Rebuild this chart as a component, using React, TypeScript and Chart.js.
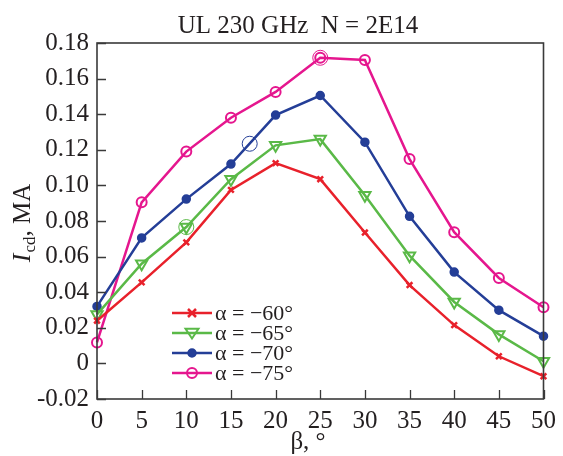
import React, { useEffect, useRef } from "react";
import { Chart, registerables } from "chart.js";

Chart.register(...registerables);

const beta = [0, 5, 10, 15, 20, 25, 30, 35, 40, 45, 50];
const alpha60 = [0.024, 0.0455, 0.068, 0.0975, 0.1125, 0.1035, 0.0735, 0.044, 0.0215, 0.004, -0.0072];
const alpha65 = [0.0275, 0.056, 0.0766, 0.1035, 0.1225, 0.126, 0.0945, 0.0605, 0.0345, 0.0163, 0.0012];
const alpha70 = [0.032, 0.0705, 0.0923, 0.112, 0.1395, 0.1505, 0.1243, 0.0826, 0.0513, 0.0299, 0.0153];
const alpha75 = [0.0118, 0.0905, 0.119, 0.138, 0.1525, 0.1717, 0.1705, 0.1148, 0.0737, 0.048, 0.0315];
const seriesLabels = ["α = −60°", "α = −65°", "α = −70°", "α = −75°"];
const highlightPoints = [
  { x: 25, y: 0.1717, series: 3 },
  { x: 10, y: 0.0766, series: 1 },
  { x: 17.1, y: 0.1234, series: 2 },
];
const titleText = "UL 230 GHz  N = 2E14";
const xTitle = "β, °";

const COLORS = ["#e8212b", "#5ab947", "#243e97", "#e5168e"];
const TEXT = "#231f20";
const FONT = "Liberation Serif, 'Times New Roman', serif";

type Marker = { style: string; radius: number; rotation: number; fill: string; bw: number };
const MARKERS: Marker[] = [
  { style: "crossRot", radius: 4, rotation: 0, fill: COLORS[0], bw: 2.5 },
  { style: "triangle", radius: 6.5, rotation: 180, fill: "rgba(0,0,0,0)", bw: 2 },
  { style: "circle", radius: 4, rotation: 0, fill: COLORS[2], bw: 1.5 },
  { style: "circle", radius: 5, rotation: 0, fill: "rgba(0,0,0,0)", bw: 2 },
];

function drawMarker(ctx: CanvasRenderingContext2D, i: number, x: number, y: number) {
  const m = MARKERS[i];
  ctx.save();
  ctx.strokeStyle = COLORS[i];
  ctx.fillStyle = m.fill;
  ctx.lineWidth = m.bw;
  ctx.beginPath();
  if (m.style === "crossRot") {
    const r = m.radius;
    ctx.moveTo(x - r, y - r);
    ctx.lineTo(x + r, y + r);
    ctx.moveTo(x - r, y + r);
    ctx.lineTo(x + r, y - r);
    ctx.stroke();
  } else if (m.style === "triangle") {
    const r = m.radius;
    const h = r * 1.5;
    ctx.moveTo(x - r * 0.866 * 1.15, y - h / 3 - 1);
    ctx.lineTo(x + r * 0.866 * 1.15, y - h / 3 - 1);
    ctx.lineTo(x, y + (2 * h) / 3 - 1);
    ctx.closePath();
    ctx.stroke();
  } else {
    ctx.arc(x, y, m.radius, 0, Math.PI * 2);
    ctx.fill();
    ctx.stroke();
  }
  ctx.restore();
}

const decorPlugin = {
  id: "decor",
  afterDraw(chart: any) {
    const ctx: CanvasRenderingContext2D = chart.ctx;
    const { left, right, top, bottom } = chart.chartArea;
    const xs = chart.scales.x;
    const ys = chart.scales.y;
    ctx.save();
    // frame
    ctx.strokeStyle = "#3a3a3a";
    ctx.lineWidth = 1.6;
    ctx.strokeRect(left, top, right - left, bottom - top);
    // inward ticks
    ctx.lineWidth = 1.3;
    ctx.beginPath();
    xs.ticks.forEach((t: any) => {
      const px = Math.round(xs.getPixelForValue(t.value)) + 0.5;
      ctx.moveTo(px, bottom);
      ctx.lineTo(px, bottom - 9);
    });
    ys.ticks.forEach((t: any) => {
      const py = Math.round(ys.getPixelForValue(t.value)) + 0.5;
      ctx.moveTo(left, py);
      ctx.lineTo(left + 9, py);
    });
    ctx.stroke();

    // title
    ctx.fillStyle = TEXT;
    ctx.font = `25px ${FONT}`;
    ctx.textAlign = "center";
    ctx.textBaseline = "alphabetic";
    ctx.fillText(titleText, 298, 33);

    // x title
    ctx.fillText(xTitle, 308, 449);

    // y title rotated: I_cd, MA
    ctx.save();
    ctx.translate(30, 223);
    ctx.rotate(-Math.PI / 2);
    const fI = `italic 26px ${FONT}`;
    const fSub = `17px ${FONT}`;
    const fMain = `25px ${FONT}`;
    ctx.font = fI;
    const wI = ctx.measureText("I").width;
    ctx.font = fSub;
    const wSub = ctx.measureText("cd").width;
    ctx.font = fMain;
    const wRest = ctx.measureText(", MA").width;
    const total = wI + wSub + wRest + 1;
    let cx = -total / 2;
    ctx.textAlign = "left";
    ctx.font = fI;
    ctx.fillText("I", cx, 0);
    cx += wI + 1;
    ctx.font = fSub;
    ctx.fillText("cd", cx, 5);
    cx += wSub;
    ctx.font = fMain;
    ctx.fillText(", MA", cx, 0);
    ctx.restore();

    // legend
    const rows = [313, 333, 353, 373];
    seriesLabels.forEach((lab, i) => {
      const y = rows[i];
      ctx.strokeStyle = COLORS[i];
      ctx.lineWidth = 2.5;
      ctx.beginPath();
      ctx.moveTo(172, y);
      ctx.lineTo(212, y);
      ctx.stroke();
      drawMarker(ctx, i, 192, y);
      ctx.fillStyle = TEXT;
      ctx.font = `22px ${FONT}`;
      ctx.textAlign = "left";
      ctx.textBaseline = "middle";
      ctx.fillText(lab, 215, y + 1);
    });
    ctx.restore();
  },
};

export default function App() {
  const ref = useRef<HTMLCanvasElement>(null);
  useEffect(() => {
    if (!ref.current) return;
    const series = [alpha60, alpha65, alpha70, alpha75];
    const datasets: any[] = series.map((vals, i) => ({
      label: seriesLabels[i],
      data: beta.map((b, j) => ({ x: b, y: vals[j] })),
      borderColor: COLORS[i],
      backgroundColor: MARKERS[i].fill,
      borderWidth: 2.5,
      pointStyle: MARKERS[i].style,
      pointRadius: MARKERS[i].radius,
      pointRotation: MARKERS[i].rotation,
      pointBorderWidth: MARKERS[i].bw,
      pointBorderColor: COLORS[i],
      pointBackgroundColor: MARKERS[i].fill,
      clip: false,
      tension: 0,
    }));
    highlightPoints.forEach((p) => {
      datasets.push({
        label: "hl",
        data: [{ x: p.x, y: p.y }],
        showLine: false,
        borderColor: COLORS[p.series],
        backgroundColor: "rgba(0,0,0,0)",
        pointRadius: 7.5,
        pointBorderWidth: 1,
        pointStyle: "circle",
        clip: false,
      });
    });
    const chart = new Chart(ref.current, {
      type: "line",
      data: { datasets },
      options: {
        animation: false,
        responsive: false,
        maintainAspectRatio: false,
        layout: { padding: { top: 43, right: 13, left: 0, bottom: 0 } },
        plugins: { legend: { display: false }, title: { display: false }, tooltip: { enabled: false } },
        scales: {
          x: {
            type: "linear",
            min: 0,
            max: 50,
            ticks: { stepSize: 5, padding: 7, color: TEXT, font: { family: FONT, size: 25 }, maxRotation: 0, autoSkip: false },
            grid: { display: false, drawTicks: false },
            border: { display: false },
            afterFit: (s: any) => { s.height = 57; },
          },
          y: {
            min: -0.02,
            max: 0.18,
            ticks: {
              stepSize: 0.02,
              padding: 8,
              color: TEXT,
              font: { family: FONT, size: 25 },
              autoSkip: false,
              callback: (v: any) => (Math.abs(v) < 1e-9 ? "0" : Number(v).toFixed(2)),
            },
            grid: { display: false, drawTicks: false },
            border: { display: false },
            afterFit: (s: any) => { s.width = 97; },
          },
        },
      } as any,
      plugins: [decorPlugin],
    });
    return () => chart.destroy();
  }, []);
  return (
    <div style={{ position: "fixed", left: 0, top: 0, width: 563, height: 456, background: "#fff" }}>
      <canvas ref={ref} width={563} height={456} style={{ width: 563, height: 456, display: "block" }} />
    </div>
  );
}
